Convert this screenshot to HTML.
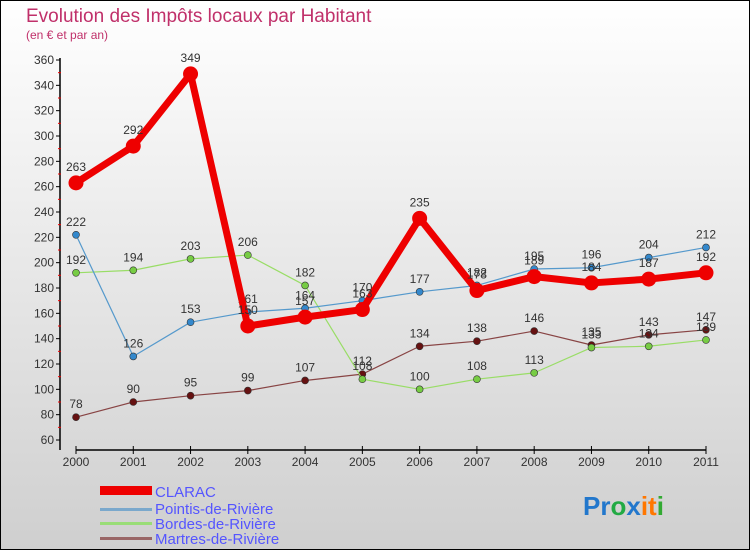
<!DOCTYPE html>
<html><head><meta charset="utf-8"><style>
body{margin:0;width:750px;height:550px;overflow:hidden;font-family:"Liberation Sans",sans-serif}
svg{display:block}
</style></head><body>
<svg id="chart" width="750" height="550" xmlns="http://www.w3.org/2000/svg">
<defs><linearGradient id="bg" x1="0" y1="0" x2="0" y2="1"><stop offset="0" stop-color="#ffffff"/><stop offset="1" stop-color="#cfcfcf"/></linearGradient></defs>
<rect x="0.5" y="0.5" width="749" height="549" fill="url(#bg)" stroke="#000"/>
<text x="26" y="22" font-size="19" fill="#c0306a">Evolution des Impôts locaux par Habitant</text>
<text x="26" y="39" font-size="12" fill="#c0306a">(en € et par an)</text>
<g id="axes"></g>
<g id="series"></g>
<g id="legend">
<rect x="100" y="486" width="52" height="9" fill="#e00"/>
<text x="155" y="497" font-size="15" fill="#5555ff">CLARAC</text>
<rect x="100" y="508" width="52" height="3" fill="#7aa8cc"/>
<text x="155" y="514" font-size="15" fill="#5555ff">Pointis-de-Rivière</text>
<rect x="100" y="522" width="52" height="3" fill="#99dd77"/>
<text x="155" y="529" font-size="15" fill="#5555ff">Bordes-de-Rivière</text>
<rect x="100" y="537" width="52" height="3" fill="#996666"/>
<text x="155" y="544" font-size="15" fill="#5555ff">Martres-de-Rivière</text>
</g>
<text x="583" y="515" font-size="26" font-weight="bold"><tspan fill="#2277cc">Pr</tspan><tspan fill="#22aa44">o</tspan><tspan fill="#2277cc">x</tspan><tspan fill="#ff7700">it</tspan><tspan fill="#33aa33">i</tspan></text>
</svg>
<script>
const years=["2000","2001","2002","2003","2004","2005","2006","2007","2008","2009","2010","2011"];
const yTicks=[60,80,100,120,140,160,180,200,220,240,260,280,300,320,340,360];
const clarac=[263,292,349,150,157,163,235,178,189,184,187,192];
const pointis=[222,126,153,161,164,170,177,182,195,196,204,212];
const bordes=[192,194,203,206,182,108,100,108,113,133,134,139];
const martres=[78,90,95,99,107,112,134,138,146,135,143,147];
const NS="http://www.w3.org/2000/svg";
function X(i){return 76+i*(630/11);}
function Y(v){return 440-(v-60)*(380/300);}
function mk(tag,attrs,parent){const e=document.createElementNS(NS,tag);for(const k in attrs)e.setAttribute(k,attrs[k]);parent.appendChild(e);return e;}
const ax=document.getElementById('axes');
let yl=mk('line',{x1:60,y1:Y(360)-2,x2:60,y2:450,stroke:'#000','stroke-width':1.5},ax);


let xl=mk('line',{x1:76,y1:450,x2:706,y2:450,stroke:'#000','stroke-width':1.5},ax);


yTicks.forEach((v,i)=>{
  mk('line',{x1:56,y1:Y(v),x2:60,y2:Y(v),stroke:'#000'},ax);
  if(i<yTicks.length-1)mk('line',{x1:58,y1:Y(v+10),x2:61,y2:Y(v+10),stroke:'#e00'},ax);
  const t=mk('text',{x:54,y:Y(v)+4,'font-size':12,fill:'#333','text-anchor':'end'},ax);
  t.textContent=v;
  
  
});
years.forEach((y,i)=>{
  mk('line',{x1:X(i),y1:446,x2:X(i),y2:454,stroke:'#000'},ax);
  const t=mk('text',{x:X(i),y:466,'font-size':12,fill:'#333','text-anchor':'middle'},ax);
  t.textContent=y;
  
  
});
const sg=document.getElementById('series');
function draw(data,name,color,dot,w,r){
  const g=mk('g',{},sg);
  
  
  const pts=data.map((v,i)=>X(i)+','+Y(v)).join(' ');
  mk('polyline',{points:pts,fill:'none',stroke:color,'stroke-width':w,'stroke-linejoin':'round'},g);
  data.forEach((v,i)=>{
    const c=mk('circle',{cx:X(i),cy:Y(v),r:r,fill:dot,stroke:'#333','stroke-width':r>5?0:0.6},g);
    
    
    const t=mk('text',{x:X(i),y:Y(v)-9-(r>5?3:0),'font-size':12,fill:'#333','text-anchor':'middle'},g);
    t.textContent=v;
    
    
  });
}
draw(martres,'martres','#884444','#661111',1.2,3.5);
draw(bordes,'bordes','#99dd66','#77cc44',1.2,3.5);
draw(pointis,'pointis','#5599cc','#3388cc',1.2,3.5);
draw(clarac,'clarac','#ee0000','#ee0000',7,7.5);
</script>
</body></html>
